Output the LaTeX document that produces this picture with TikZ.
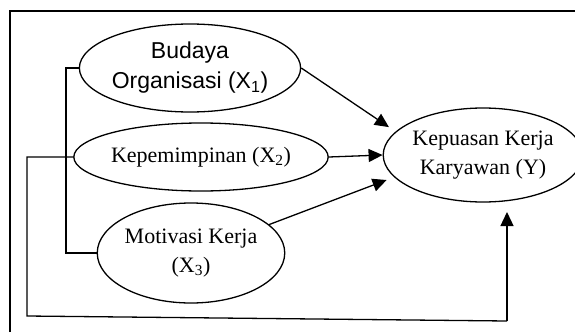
\documentclass[tikz,border=0pt]{standalone}
\usepackage{fontspec}
\setmainfont{Liberation Serif}
\newfontfamily\arialfont{Liberation Sans}
\usetikzlibrary{arrows.meta,shapes.geometric}
\tikzset{
  ell/.style={draw, ellipse, inner sep=0pt, line width=1.3pt, align=center,
    font=\fontsize{22}{29}\selectfont},
  conn/.style={line width=1.3pt},
  arr/.style={conn, -{Triangle[length=14pt,width=13pt]}},
}
\begin{document}
\begin{tikzpicture}[x=1pt,y=-1pt]
\useasboundingbox (0,0) rectangle (575,332);
% frame
\draw[conn] (10,332) -- (10,11) -- (576,11);
% nodes
\node[ell, minimum width=182pt, minimum height=88pt,
  font=\arialfont\fontsize{23}{30}\selectfont] (x1) at (190,68)
  {Budaya\\Organisasi (X\textsubscript{1})};
\node[ell, minimum width=222pt, minimum height=68pt] (x2) at (201,157)
  {Kepemimpinan (X\textsubscript{2})};
\node[ell, minimum width=180pt, minimum height=100pt] (x3) at (191,253)
  {Motivasi Kerja\\(X\textsubscript{3})};
\node[ell, minimum width=182pt, minimum height=94pt] (y) at (483,155)
  {Kepuasan Kerja\\Karyawan (Y)};
% bracket
\coordinate (bt) at (66,68);
\coordinate (bb) at (66,253);
\draw[conn] (x1.west) -- (bt) -- (bb) -- (x3.west);
% loop from X2 to Y
\coordinate (l1) at (27,157);
\coordinate (l2) at (27,316);
\coordinate (l3) at (507,321);
\coordinate (l4) at (507,212);
\draw[conn] (x2.west) -- (l1) -- (l2) -- (l3);
\draw[arr] (l3) -- (l4);
% arrows into Y
\draw[arr, shorten >=8pt] (x1.east) -- (y.165);
\draw[arr] (x2.east) -- (y.west);
\draw[arr, shorten >=8pt] (x3.20) -- (y.194);
\end{tikzpicture}
\end{document}
